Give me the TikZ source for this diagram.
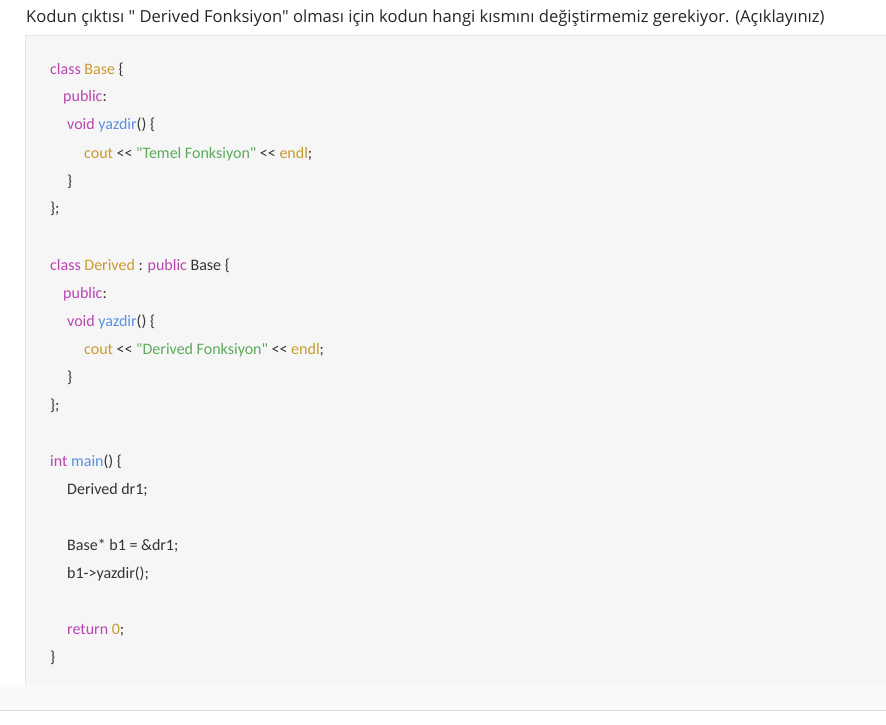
\documentclass[tikz,border=0pt]{standalone}
\usepackage{fontspec}
\newfontfamily\codefont{Carlito}
\newfontfamily\titlefont{Open Sans}
\definecolor{kw}{HTML}{B846B0}
\definecolor{ty}{HTML}{C99A2E}
\definecolor{fn}{HTML}{5B8FE0}
\definecolor{st}{HTML}{5DAA5D}
\definecolor{tx}{HTML}{333333}
\definecolor{boxbg}{HTML}{F6F6F6}
\definecolor{topline}{HTML}{DCE6F0}
\tikzset{code/.style={anchor=west,inner sep=0pt,text=tx,font=\codefont\fontsize{16}{16}\selectfont}}
\begin{document}
\begin{tikzpicture}[x=1pt,y=-1pt]
\useasboundingbox (0,0) rectangle (886,724);
\fill[white] (0,0) rectangle (886,724);
\fill[boxbg!60!white] (0,685) rectangle (886,710);
\draw[black!12] (0,710.5) -- (886,710.5);
\fill[boxbg] (25,35) rectangle (886,685);
\draw[black!10] (25.5,35) -- (25.5,685);
\draw[topline,line width=1.5pt] (25,35.5) -- (886,35.5);
\node[anchor=west,inner sep=0pt,font=\titlefont\fontsize{16.6}{17}\selectfont,text=black!85] (title) at (26,18) {Kodun çıktısı " Derived Fonksiyon" olması için kodun hangi kısmını değiştirmemiz gerekiyor. (Açıklayınız)};
\node[code] (l1) at (50,70) {\textcolor{kw}{class} \textcolor{ty}{Base} \{};
\node[code] (l2) at (63,97) {\textcolor{kw}{public}:};
\node[code] (l3) at (67,125) {\textcolor{kw}{void} \textcolor{fn}{yazdir}() \{};
\node[code] (l4) at (84,154) {\textcolor{ty}{cout} << \textcolor{st}{"Temel Fonksiyon"} << \textcolor{ty}{endl};};
\node[code] (l5) at (67,182) {\}};
\node[code] (l6) at (50,209) {\};};
\node[code] (l7) at (50,266) {\textcolor{kw}{class} \textcolor{ty}{Derived} : \textcolor{kw}{public} Base \{};
\node[code] (l8) at (63,294) {\textcolor{kw}{public}:};
\node[code] (l9) at (67,322) {\textcolor{kw}{void} \textcolor{fn}{yazdir}() \{};
\node[code] (l10) at (84,350) {\textcolor{ty}{cout} << \textcolor{st}{"Derived Fonksiyon"} << \textcolor{ty}{endl};};
\node[code] (l11) at (67,378) {\}};
\node[code] (l12) at (50,406) {\};};
\node[code] (l13) at (50,462) {\textcolor{kw}{int} \textcolor{fn}{main}() \{};
\node[code] (l14) at (67,490) {Derived dr1;};
\node[code] (l15) at (67,546) {Base* b1 = \&dr1;};
\node[code] (l16) at (67,574) {b1->yazdir();};
\node[code] (l17) at (67,630) {\textcolor{kw}{return} \textcolor{ty}{0};};
\node[code] (l18) at (50,658) {\}};
\end{tikzpicture}
\end{document}
